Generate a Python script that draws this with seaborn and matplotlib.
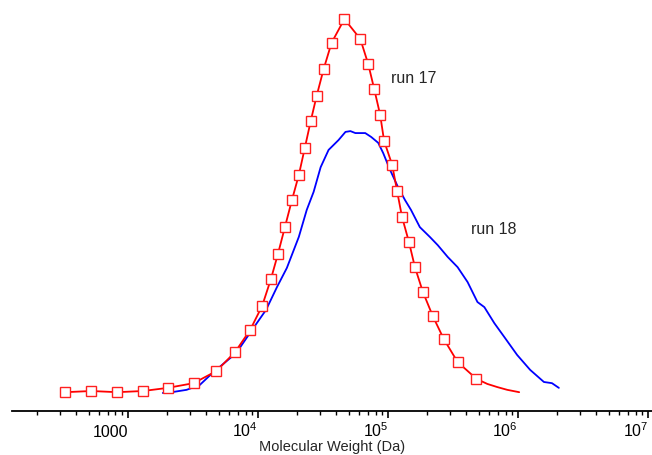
import numpy as np
import pandas as pd
import matplotlib
matplotlib.use("Agg")
import matplotlib.pyplot as plt
import matplotlib.ticker as mticker
import seaborn as sns

# run 17 (red, square markers) - molecular weight (Da) vs normalised signal
run17_mw = [330, 522, 824, 1303, 2018, 3191, 4779, 6673, 8690, 10740,
            12560, 14220, 16070, 18200, 20560, 22860, 25400, 28200, 31900, 36700,
            46100, 61100, 70300, 78200, 86900, 93100, 107400, 117200, 127900, 144600,
            160700, 184900, 220600, 267500, 342100, 477800,
            579800, 691800, 824100, 1018000]
run17_w = [0.048, 0.051, 0.048, 0.051, 0.059, 0.071, 0.102, 0.151, 0.207, 0.268,
           0.337, 0.401, 0.469, 0.538, 0.602, 0.671, 0.740, 0.804, 0.872, 0.939,
           1.000, 0.949, 0.885, 0.821, 0.755, 0.689, 0.628, 0.561, 0.495, 0.431,
           0.367, 0.304, 0.242, 0.184, 0.125, 0.082,
           0.069, 0.061, 0.054, 0.048]
run17_n_markers = 36

# run 18 (blue)
run18_mw = [1849, 1986, 2818, 3548, 4457, 6792, 8995, 11510, 13960, 16640,
            20560, 23660, 26730, 30270, 34830, 41500, 46990, 51290, 55980, 66680,
            74130, 83950, 91620, 103500, 119200, 134900, 149900, 175400, 209400, 240900,
            287100, 342100, 408300, 486400, 549500, 656100, 781600, 982000, 1236000, 1578000,
            1820000, 2056000]
run18_w = [0.046, 0.046, 0.054, 0.066, 0.097, 0.148, 0.207, 0.258, 0.316, 0.365,
           0.444, 0.513, 0.559, 0.622, 0.666, 0.691, 0.712, 0.714, 0.709, 0.709,
           0.699, 0.684, 0.658, 0.615, 0.571, 0.538, 0.513, 0.469, 0.444, 0.423,
           0.393, 0.367, 0.329, 0.278, 0.265, 0.224, 0.189, 0.143, 0.105, 0.074,
           0.071, 0.059]

tick_values = [1000, 1e4, 1e5, 1e6, 1e7]
tick_labels = ["1000", r"$\mathregular{10^4}$", r"$\mathregular{10^5}$",
               r"$\mathregular{10^6}$", r"$\mathregular{10^7}$"]

sns.set_style("white")
plt.rcParams["font.family"] = ["Liberation Sans", "DejaVu Sans"]
plt.rcParams["mathtext.fontset"] = "custom"
plt.rcParams["mathtext.rm"] = "Liberation Sans"

df17 = pd.DataFrame({"mw": run17_mw, "w": run17_w})
df18 = pd.DataFrame({"mw": run18_mw, "w": run18_w})

fig = plt.figure(figsize=(6.52, 4.55), dpi=100)
ax = fig.add_axes([12 / 652, 1 - 411 / 455, 1 - 12 / 652, 411 / 455])

sns.lineplot(data=df18, x="mw", y="w", ax=ax, color="#0000ff", lw=1.3,
             estimator=None, sort=False)
sns.lineplot(data=df17, x="mw", y="w", ax=ax, color="#ff0000", lw=1.3,
             estimator=None, sort=False, marker="s", markersize=7.5,
             markerfacecolor="white", markeredgecolor="#ff2020",
             markeredgewidth=1.0, markevery=slice(0, run17_n_markers))

ax.set_xscale("log")
ax.set_xlim(128, 1.07e7)
ax.set_ylim(0, 411 / 392)

ax.xaxis.set_minor_locator(mticker.LogLocator(base=10, subs=np.arange(2, 10)))
ax.xaxis.set_minor_formatter(mticker.NullFormatter())
ax.set_xticks(tick_values)
ax.set_xticklabels(tick_labels)
for lab in ax.get_xticklabels():
    lab.set_ha("right")
    lab.set_va("baseline")

ax.tick_params(axis="x", which="major", direction="out", length=5, width=1.2,
               pad=13.5, labelsize=11.5, bottom=True, colors="black")
ax.tick_params(axis="x", which="minor", direction="out", length=3, width=1.0,
               bottom=True, colors="black")
ax.set_yticks([])
ax.set_ylabel("")
ax.set_xlabel("Molecular Weight (Da)", fontsize=10.5)
ax.xaxis.label.set_va("bottom")
ax.xaxis.set_label_coords(0.5, -(454 - 411) / 411)

for side in ["left", "top", "right"]:
    ax.spines[side].set_visible(False)
ax.spines["bottom"].set_color("black")
ax.spines["bottom"].set_linewidth(1.3)

ax.text(105500, 0.849, "run 17", fontsize=11.5, ha="left", va="center")
ax.text(430500, 0.464, "run 18", fontsize=11.5, ha="left", va="center")

fig.savefig("out.png", dpi=100)
